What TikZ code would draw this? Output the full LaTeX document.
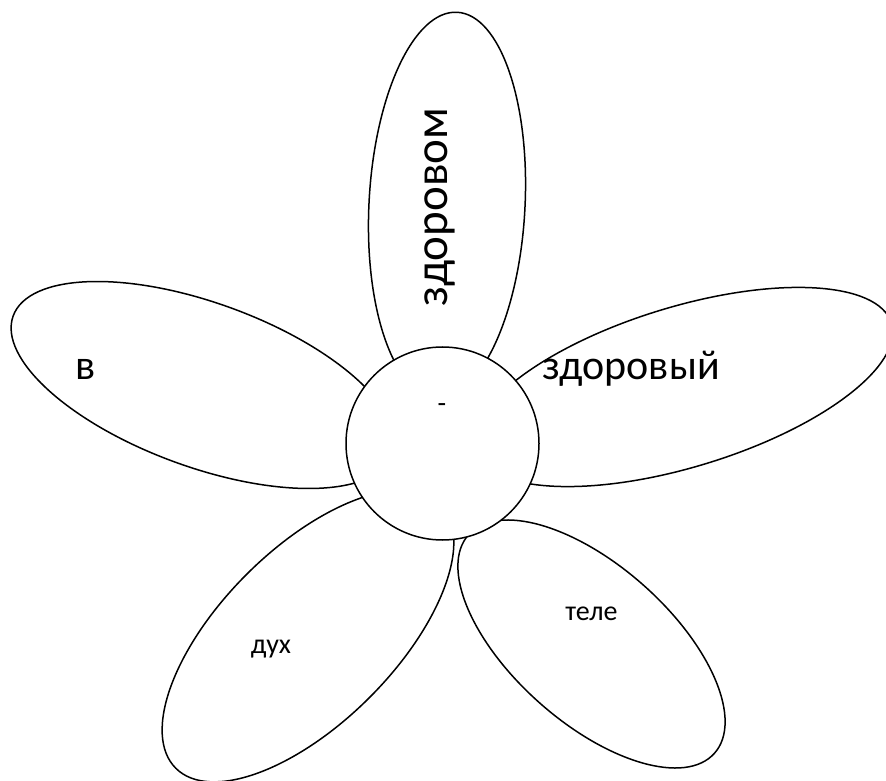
\documentclass[tikz,border=0pt]{standalone}
\usepackage{fontspec}
\setmainfont{Carlito}
\usetikzlibrary{shapes.geometric}
\tikzset{
  petal/.style={ellipse, draw=black, fill=white, line width=1.5pt, inner sep=0pt},
  core/.style={circle, draw=black, fill=white, line width=1.5pt, inner sep=0pt, minimum size=193pt},
  bigtxt/.style={font=\fontsize{42}{50}\selectfont, anchor=base, inner sep=0pt},
  vtxt/.style={font=\fontsize{47}{56}\selectfont, anchor=base, inner sep=0pt, rotate=90},
  smalltxt/.style={font=\fontsize{28}{34}\selectfont, anchor=base, inner sep=0pt}
}
\begin{document}
\begin{tikzpicture}[x=1pt,y=1pt]
\useasboundingbox (0,0) rectangle (886,780);
\fill[white] (0,0) rectangle (886,780);
% petals
\node[petal, minimum width=156pt, minimum height=386pt, rotate=-3] (ptop) at (447,575) {};
\node[petal, minimum width=404pt, minimum height=164pt, rotate=-20] (pleft) at (203,395) {};
\node[petal, minimum width=436pt, minimum height=160pt, rotate=17] (pright) at (683,393) {};
\node[petal, minimum width=374pt, minimum height=174pt, rotate=45] (pbl) at (308,144) {};
\node[petal, minimum width=329pt, minimum height=157pt, rotate=-41.6] (pbr) at (591.5,136) {};
% centre
\node[core] (c) at (442.5,336.5) {};
% texts
\node[vtxt] (t1) at (447,573) {здоровом};
\node[bigtxt] (t2) at (86,400) {в};
\node[bigtxt] (t3) at (631,400) {здоровый};
\node[smalltxt] (t4) at (442,367) {-};
\node[smalltxt] (t5) at (271,127) {дух};
\node[smalltxt] (t6) at (591.5,160) {теле};
\end{tikzpicture}
\end{document}
